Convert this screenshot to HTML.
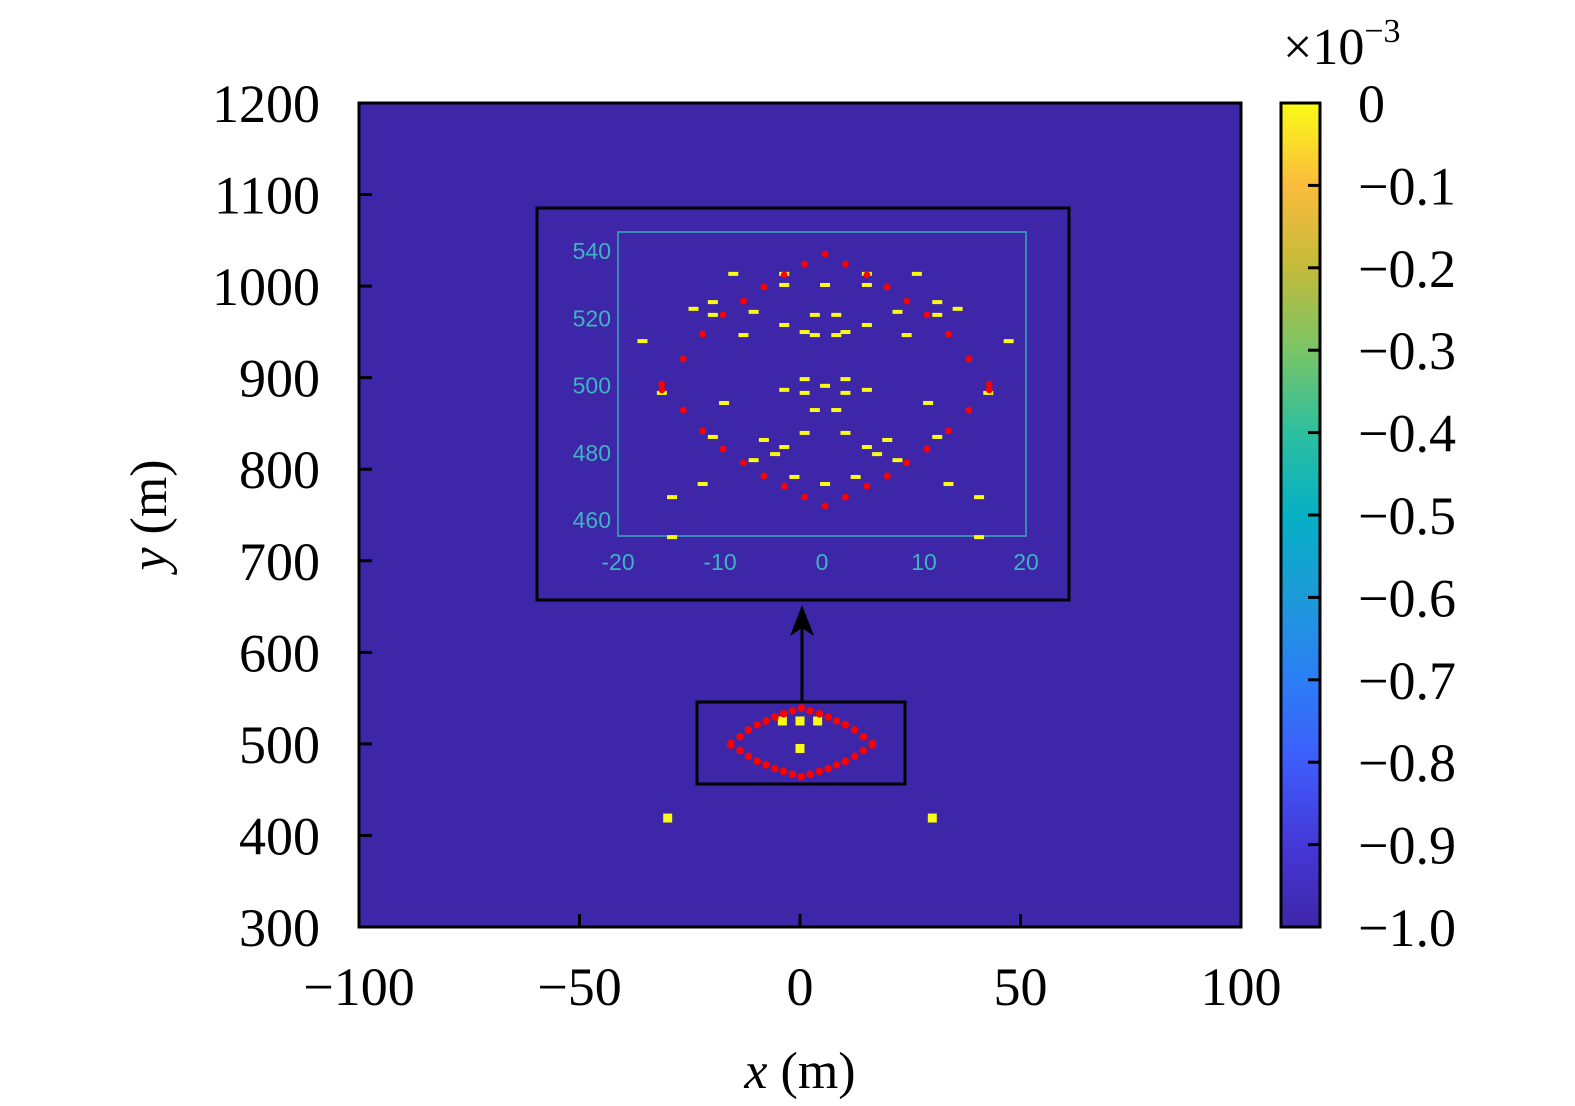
<!DOCTYPE html>
<html><head><meta charset="utf-8"><style>
html,body{margin:0;padding:0;background:#fff;width:1575px;height:1106px;overflow:hidden}
svg text{font-family:"Liberation Serif",serif}
</style></head><body>
<svg id="chart" width="1575" height="1106" xmlns="http://www.w3.org/2000/svg">
<defs>
<linearGradient id="parula" x1="0" y1="1" x2="0" y2="0">
<stop offset="0" stop-color="#3e26a8"/><stop offset="0.1" stop-color="#4538d8"/><stop offset="0.2" stop-color="#3e5cfb"/>
<stop offset="0.3" stop-color="#2c7ef5"/><stop offset="0.4" stop-color="#1d9ad9"/><stop offset="0.5" stop-color="#06b0c5"/>
<stop offset="0.6" stop-color="#2dbf9f"/><stop offset="0.7" stop-color="#79c567"/><stop offset="0.8" stop-color="#c3bb3a"/>
<stop offset="0.9" stop-color="#fbbb3d"/><stop offset="1" stop-color="#f9fb15"/>
</linearGradient>
</defs>
<g id="main"></g>
</svg>
<script>
// main plot data
const xTicks = [-100,-50,0,50,100];
const yTicks = [300,400,500,600,700,800,900,1000,1100,1200];
const cbTicks = [0,-0.1,-0.2,-0.3,-0.4,-0.5,-0.6,-0.7,-0.8,-0.9,-1.0];
const cbLabels = ["0","\u22120.1","\u22120.2","\u22120.3","\u22120.4","\u22120.5","\u22120.6","\u22120.7","\u22120.8","\u22120.9","\u22121.0"];
const mainYellowX = [-4,0,4,0,-30,30];
const mainYellowY = [525,525,525,495,419,419];
// red sensor points (shared between main & inset)
const redX = [0.3,-1.7,-3.7,-5.7,-7.7,-9.7,-11.7,-13.6,-15.7,-15.7,-13.6,-11.7,-9.7,-7.7,-5.7,-3.7,-1.7,0.3,
              2.3,4.4,6.4,8.3,10.3,12.4,14.4,16.4,16.4,14.4,12.4,10.3,8.3,6.4,4.4,2.3];
const redY = [539.1,536.1,532.9,529.3,525.1,521.0,515.3,507.9,500.4,498.7,492.7,486.5,481.1,477.0,473.1,470.1,466.8,464.2,
              536.1,532.9,529.3,525.1,521.0,515.3,507.9,500.4,498.7,492.7,486.5,481.1,477.0,473.1,470.1,466.8];
// inset yellow markers
const insetYX = [-8.7,-3.7,-3.7,0.3,-10.7,-12.6,-10.7,-6.7,-0.7,-17.6,-7.7,-3.7,-1.7,-0.7,-1.7,0.3,-3.7,-1.7,-15.7,-9.6,-0.7,-1.7,-10.7,-5.7,-3.7,-4.6,-6.7,-11.7,-2.7,0.3,-14.7,-14.7,
  4.4,9.3,4.4,11.3,13.3,1.4,7.4,11.3,4.4,2.3,1.4,8.3,18.3,2.3,2.3,4.4,16.3,10.4,1.4,2.3,6.4,11.3,4.4,5.4,7.4,3.3,12.4,15.4,15.4];
const insetYY = [533.2,533.2,529.9,529.9,524.8,522.8,521.0,521.9,521.0,513.2,515.0,518.0,515.9,515.0,501.9,499.9,498.7,497.8,497.8,494.8,492.7,485.9,484.7,483.8,481.7,479.6,477.8,470.7,472.8,470.7,466.8,454.9,
  533.2,533.2,529.9,524.8,522.8,521.0,521.9,521.0,518.0,515.9,515.0,515.0,513.2,501.9,497.8,498.7,497.8,494.8,492.7,485.9,483.8,484.7,481.7,479.6,477.8,472.8,470.7,466.8,454.9];
const insetXTicks = [-20,-10,0,10,20];
const insetYTicks = [460,480,500,520,540];

const NS="http://www.w3.org/2000/svg";
const g=document.getElementById('main');
function el(tag,attrs,parent){const e=document.createElementNS(NS,tag);for(const k in attrs)e.setAttribute(k,attrs[k]);(parent||g).appendChild(e);return e;}
const X0=359,X1=1241,Y0=927,Y1=103;
const sx=v=>X0+(v+100)/200*(X1-X0);
const sy=v=>Y0-(v-300)/900*(Y0-Y1);
const ix=v=>618+(v+20)*10.2;
const iy=v=>251+(540-v)*3.3625;

let bg=el('rect',{x:X0,y:Y1,width:X1-X0,height:Y0-Y1,fill:'#3d26a8'});



mainYellowX.forEach((v,i)=>{
  const r=el('rect',{x:sx(v)-4.5,y:sy(mainYellowY[i])-4.5,width:9,height:9,fill:'#f9fb15'});
  
  
});
redX.forEach((v,i)=>{
  const c=el('circle',{cx:sx(v),cy:sy(redY[i]),r:3.8,fill:'#ff0000'});
  
  
});
let zb=el('rect',{x:697,y:702,width:208,height:82,fill:'none',stroke:'#000','stroke-width':3});


let ar=el('line',{x1:802,y1:702,x2:802,y2:612,stroke:'#000','stroke-width':3});


let ah=el('path',{d:'M790,636 L802,605 L814,636 L802,628 Z',fill:'#000'});



let ib=el('rect',{x:537,y:208,width:532,height:392,fill:'#3d26a8',stroke:'#000','stroke-width':3});


let ia=el('rect',{x:618,y:232,width:408,height:304,fill:'none',stroke:'#3aa9b8','stroke-width':1.5});


insetXTicks.forEach(v=>{
  const t=el('text',{x:ix(v),y:570,'text-anchor':'middle',fill:'#3fb3c0','font-size':23,style:'font-family:"Liberation Sans",sans-serif'});
  t.textContent=v;
  
  
});
insetYTicks.forEach(v=>{
  const t=el('text',{x:611,y:iy(v)+8,'text-anchor':'end',fill:'#3fb3c0','font-size':23,style:'font-family:"Liberation Sans",sans-serif'});
  t.textContent=v;
  
  
});
insetYX.forEach((v,i)=>{
  const r=el('rect',{x:ix(v)-5,y:iy(insetYY[i])-2,width:10,height:4,fill:'#f9fb15'});
  
  
});
redX.forEach((v,i)=>{
  const c=el('circle',{cx:ix(v),cy:iy(redY[i]),r:3.4,fill:'#ff0000'});
  
  
});

let fr=el('rect',{x:X0,y:Y1,width:X1-X0,height:Y0-Y1,fill:'none',stroke:'#000','stroke-width':3});


xTicks.forEach(v=>{
  el('line',{x1:sx(v),y1:Y0,x2:sx(v),y2:Y0-13,stroke:'#000','stroke-width':3});
  const t=el('text',{x:sx(v),y:1005,'text-anchor':'middle','font-size':54});
  t.textContent=v<0?'\u2212'+(-v):v;
  
  
});
yTicks.forEach(v=>{
  el('line',{x1:X0,y1:sy(v),x2:X0+13,y2:sy(v),stroke:'#000','stroke-width':3});
  const t=el('text',{x:320,y:sy(v)+19,'text-anchor':'end','font-size':54});
  t.textContent=v;
  
  
});
let xt=el('text',{x:800,y:1088,'text-anchor':'middle','font-size':52});
xt.innerHTML='<tspan font-style="italic">x</tspan> (m)';


let yt=el('text',{x:0,y:0,'text-anchor':'middle','font-size':52,transform:'translate(166,515) rotate(-90)'});
yt.innerHTML='<tspan font-style="italic">y</tspan> (m)';



const CB0=1281,CB1=1320;
const cy=v=>Y0-(v+1)*(Y0-Y1);
let cb=el('rect',{x:CB0,y:Y1,width:CB1-CB0,height:Y0-Y1,fill:'url(#parula)',stroke:'#000','stroke-width':3});


cbTicks.forEach((v,i)=>{
  if(i>0&&i<cbTicks.length-1) el('line',{x1:CB1-12,y1:cy(v),x2:CB1,y2:cy(v),stroke:'#000','stroke-width':3});
  const t=el('text',{x:1358,y:cy(v)+19,'font-size':54});
  t.textContent=cbLabels[i];
  
  
});
let ex=el('text',{x:1283,y:64,'font-size':52});
ex.innerHTML='\u00d710<tspan dy="-22" font-size="34">\u22123</tspan>';


</script>
</body></html>
